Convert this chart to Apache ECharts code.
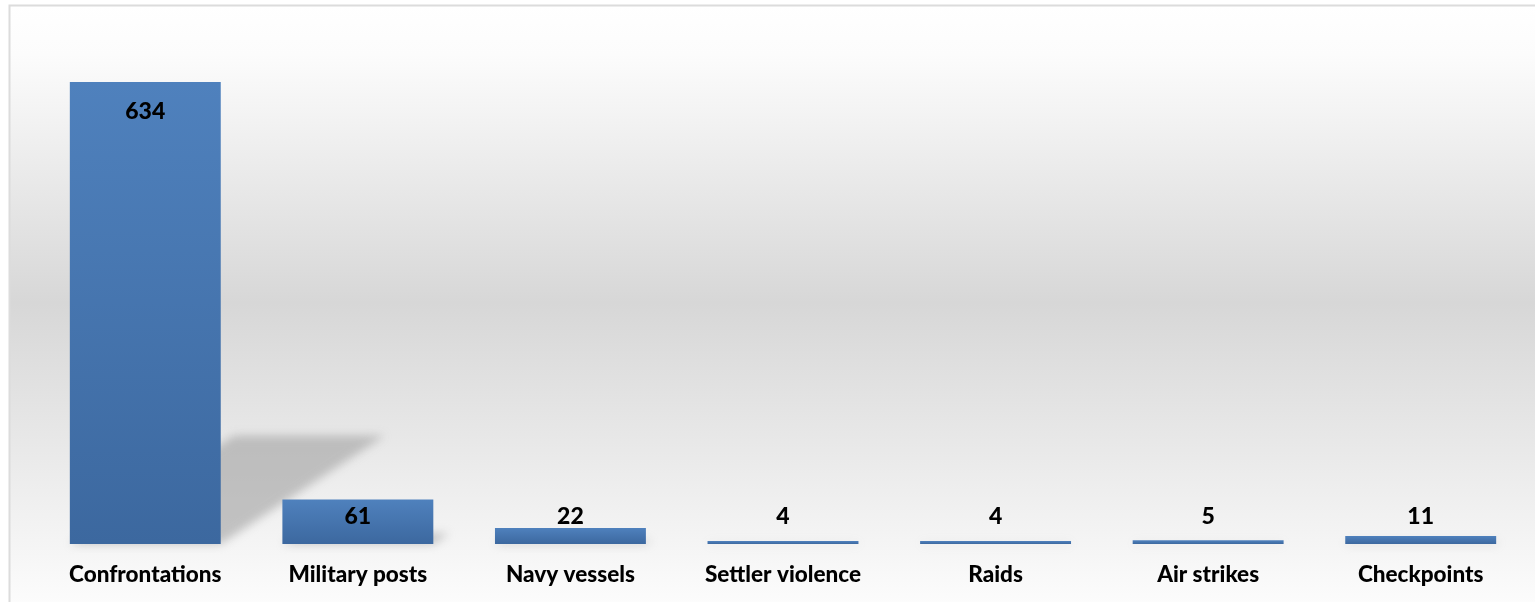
<!DOCTYPE html>
<html>
<head>
<meta charset="utf-8">
<script src="https://cdn.jsdelivr.net/npm/echarts@6/dist/echarts.min.js"></script>
<style>
html,body{margin:0;padding:0;background:#fff;}
#main{width:1535px;height:602px;}
</style>
</head>
<body>
<div id="main"></div>
<script>
const categories = ['Confrontations','Military posts','Navy vessels','Settler violence','Raids','Air strikes','Checkpoints'];
const values = [634, 61, 22, 4, 4, 5, 11];
const axisMax = 700;

const chart = echarts.init(document.getElementById('main'), null, {renderer:'canvas'});
const FONT = 'Lato';
const barRatio = 0.71;
const SHIFT = 2000;

const option = {
  backgroundColor: '#ffffff',
  animation: false,
  graphic: [{
    type: 'rect',
    z: -10,
    silent: true,
    shape: {x: 9.5, y: 5.5, width: 1600, height: 620},
    style: {
      fill: new echarts.graphic.LinearGradient(0, 0, 0, 1, [
        {offset: 0, color: '#ffffff'},
        {offset: 0.08, color: '#fcfcfc'},
        {offset: 0.48, color: '#d7d7d7'},
        {offset: 0.9, color: '#f7f7f7'},
        {offset: 1, color: '#ffffff'}
      ]),
      stroke: '#dcdcdc',
      lineWidth: 2
    }
  }],
  grid: {left: 39, right: 8, top: 34, bottom: 58, containLabel: false},
  xAxis: {
    type: 'category',
    data: categories,
    axisLine: {show: false},
    axisTick: {show: false},
    axisLabel: {
      interval: 0,
      margin: 19,
      color: '#000',
      fontFamily: FONT,
      fontWeight: 900,
      fontSize: 22.5
    }
  },
  yAxis: {
    type: 'value',
    min: 0,
    max: axisMax,
    show: false,
    splitLine: {show: false}
  },
  series: [
    {
      type: 'custom',
      z: 1,
      silent: true,
      data: values,
      renderItem: function (params, api) {
        const i = params.dataIndex;
        const v = api.value(0);
        const base = api.coord([i, 0]);
        const top = api.coord([i, v]);
        const w = api.size([1, 0])[0] * barRatio;
        const h = base[1] - top[1];
        const xl = base[0] - w / 2 - SHIFT, xr = base[0] + w / 2 - SHIFT, yb = base[1];
        const dx = 0.355 * h, dy = 0.235 * h;
        return {
          type: 'polygon',
          shape: {points: [[xl, yb], [xr, yb], [xr + dx, yb - dy], [xl + dx, yb - dy]]},
          style: {fill: '#b5b5b5', shadowBlur: 10, shadowColor: 'rgba(160,160,160,0.6)', shadowOffsetX: SHIFT}
        };
      },
      encode: {x: -1, y: 0}
    },
    {
      type: 'bar',
      z: 2,
      barCategoryGap: '29%',
      data: values.map(v => ({
        value: v,
        label: v >= 100
          ? {position: 'insideTop', distance: 18}
          : {position: 'insideBottom', distance: 16}
      })),
      itemStyle: {
        color: new echarts.graphic.LinearGradient(0, 0, 0, 1, [
          {offset: 0, color: '#4f81bd'},
          {offset: 1, color: '#3c689f'}
        ])
      },
      label: {
        show: true,
        color: '#000',
        fontFamily: FONT,
        fontWeight: 900,
        fontSize: 23
      }
    }
  ]
};
chart.setOption(option);
</script>
</body>
</html>
